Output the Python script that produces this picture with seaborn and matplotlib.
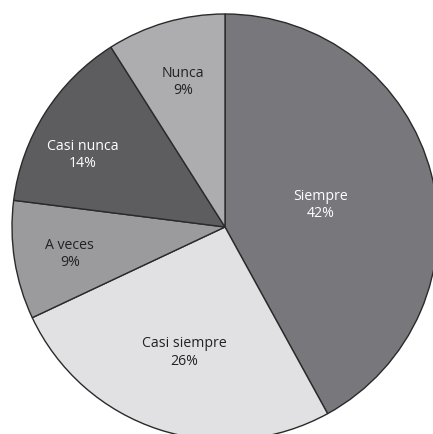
import numpy as np
import matplotlib
matplotlib.use("Agg")
import matplotlib.pyplot as plt
import seaborn as sns

categories = ["Siempre", "Casi siempre", "A veces", "Casi nunca", "Nunca"]
values = [42, 26, 9, 14, 9]
pct_labels = ["42%", "26%", "9%", "14%", "9%"]

colors = ["#78787c", "#e1e1e3", "#9b9b9e", "#5d5d60", "#adadb0"]
text_colors = ["white", "#222222", "#222222", "white", "#222222"]
label_r = [0.46, 0.62, 0.74, 0.75, 0.71]
label_dang = [-1.5, 0.0, 1.0, 5.5, 0.0]

sns.set_theme(style="white")
plt.rcParams['font.family'] = ['Open Sans', 'DejaVu Sans']

W, H = 433, 434
fig = plt.figure(figsize=(W / 100, H / 100), dpi=100)
ax = fig.add_axes([0, 0, 1, 1])
cx, cy, R = 225, 227, 213
wedges, _ = ax.pie(values, colors=colors, startangle=90, counterclock=False,
                   radius=1.0, wedgeprops=dict(edgecolor="#2a2a2a", linewidth=1.0))
for w, cat, pct, tc, r, da in zip(wedges, categories, pct_labels, text_colors, label_r, label_dang):
    ang = np.deg2rad((w.theta1 + w.theta2) / 2 + da)
    ax.text(r * np.cos(ang), r * np.sin(ang), f"{cat}\n{pct}", ha="center", va="center",
            color=tc, fontsize=10.2, linespacing=1.2)
ax.set_xlim(-cx / R, (W - cx) / R)
ax.set_ylim(-(H - cy) / R, cy / R)
ax.set_aspect("auto")
ax.axis("off")
fig.savefig("out.png", dpi=100, facecolor="white")
